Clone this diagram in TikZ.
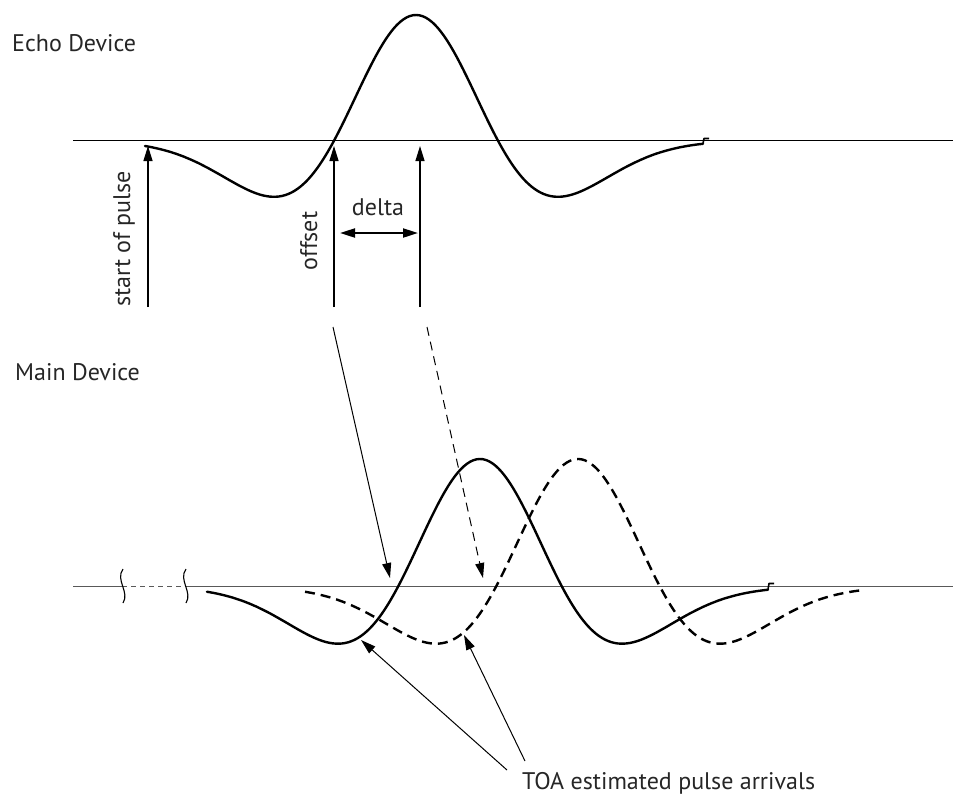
\documentclass[tikz,border=0pt]{standalone}
\usepackage{fontspec}
\setmainfont{PT Sans}
\usetikzlibrary{arrows.meta}
\begin{document}
\begin{tikzpicture}[x=1pt,y=-1pt,
  lbl/.style={font=\fontsize{24}{28}\selectfont, inner sep=0pt, text=black!85},
  axis/.style={line width=1.3pt},
  lowaxis/.style={line width=1.3pt, draw=black!65},
  wave/.style={line width=2.4pt, line join=round, line cap=round},
  dwave/.style={line width=2.4pt, line join=round, dash pattern=on 10pt off 6pt},
  tip/.style={-{Triangle[length=15pt,width=9pt]}},
  marker/.style={tip, line width=1.3pt},
  slant/.style={tip, line width=1pt},
  dslant/.style={slant, dash pattern=on 9pt off 6pt},
  flag/.style={line width=1.6pt, line join=round},
  breakmark/.style={line width=1.1pt}]
\useasboundingbox (0,0) rectangle (953,796);

% ---- Echo device: baseline and pulse (Ricker shaped) ----
\coordinate (ea) at (73,140.7);
\coordinate (eb) at (953,140.7);
\draw[axis] (ea) -- (eb);
\draw[wave] plot[domain=-271:287, samples=180, smooth]
  ({416+\x}, {140.7-125.7*(1-(\x/82)*(\x/82))*exp(-0.5*(\x/82)*(\x/82))});
\draw[flag] (703,143.5) -- (704,138.5) -- (709,138.5);

\node[lbl, anchor=base west] (echo) at (12,51) {Echo Device};

% ---- markers under the echo pulse ----
\coordinate (sp0) at (148,307);  \coordinate (sp1) at (148,146);
\coordinate (of0) at (334,307);  \coordinate (of1) at (334,146);
\coordinate (pk0) at (420,307);  \coordinate (pk1) at (420,146);
\draw[marker] (sp0) -- (sp1);
\draw[marker] (of0) -- (of1);
\draw[marker] (pk0) -- (pk1);
\coordinate (dl0) at (340,233);  \coordinate (dl1) at (418,233);
\draw[line width=2pt, {Triangle[length=15pt,width=9pt]}-{Triangle[length=15pt,width=9pt]}] (dl0) -- (dl1);

\node[lbl, rotate=90, anchor=base] (start) at (130,239) {start of pulse};
\node[lbl, rotate=90, anchor=base] (offset) at (317,241) {offset};
\node[lbl, anchor=base] (delta) at (378,215) {delta};

% ---- Main device: broken baseline and the two received pulses ----
\coordinate (ma) at (73,586.7);
\coordinate (mb) at (122,586.7);
\coordinate (mc) at (185,586.7);
\coordinate (md) at (953,586.7);
\draw[lowaxis] (ma) -- (mb);
\draw[lowaxis, dash pattern=on 5pt off 4pt] (mb) -- (mc);
\draw[lowaxis] (mc) -- (md);
\foreach \bx in {122,185}
  \draw[breakmark] (\bx+1,569) .. controls (\bx-7,580) and (\bx+8,592) .. (\bx+1,603);

\draw[wave] plot[domain=-273:288, samples=180, smooth]
  ({480+\x}, {586.7-127.7*(1-(\x/82)*(\x/82))*exp(-0.5*(\x/82)*(\x/82))});
\draw[flag] (768,589.5) -- (769,583.5) -- (774,583.5);
\draw[dwave] plot[domain=-273:284, samples=180, smooth]
  ({578+\x}, {586.7-127.7*(1-(\x/82)*(\x/82))*exp(-0.5*(\x/82)*(\x/82))});

\node[lbl, anchor=base west] (main) at (15,380) {Main Device};

% ---- mapping arrows from echo to main ----
\coordinate (m10) at (333,327);  \coordinate (m11) at (390,578);
\coordinate (m20) at (427,327);  \coordinate (m21) at (483,578);
\draw[slant] (m10) -- (m11);
\draw[dslant] (m20) -- (m21);

% ---- time of arrival callouts ----
\node[lbl, anchor=base west] (toa) at (522,789) {TOA estimated pulse arrivals};
\coordinate (t10) at (507,770);  \coordinate (t11) at (361,640);
\coordinate (t20) at (525,761);  \coordinate (t21) at (464,635);
\draw[slant] (t10) -- (t11);
\draw[slant] (t20) -- (t21);
\end{tikzpicture}
\end{document}
